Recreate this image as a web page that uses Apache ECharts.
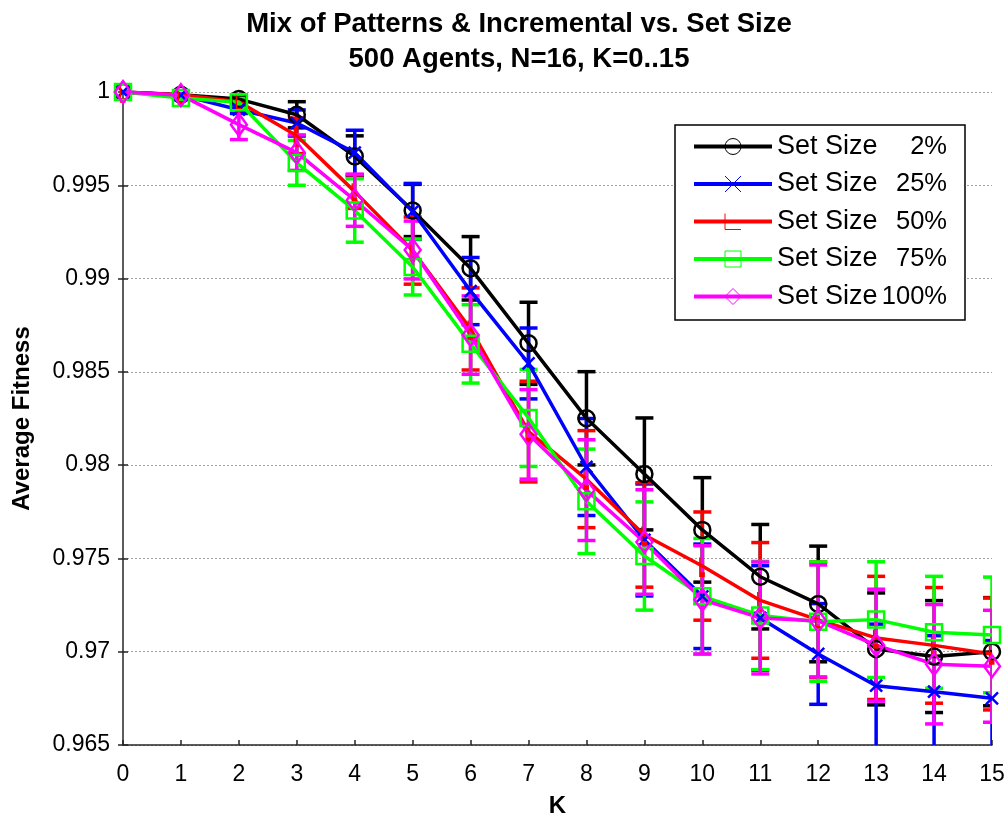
<!DOCTYPE html>
<html>
<head>
<meta charset="utf-8">
<script src="https://cdn.jsdelivr.net/npm/echarts@6/dist/echarts.min.js"></script>
<style>
  html, body { margin: 0; padding: 0; background: #fff; }
  #main { width: 1006px; height: 818px; }
</style>
</head>
<body>
<div id="main"></div>
<script>
const kValues = [0, 1, 2, 3, 4, 5, 6, 7, 8, 9, 10, 11, 12, 13, 14, 15]
const setSizes = ['2%', '25%', '50%', '75%', '100%']

const size2 = [1, 0.99985, 0.99962, 0.99878, 0.99655, 0.99365, 0.99055, 0.98653, 0.98251, 0.97953, 0.97653, 0.97402, 0.97256, 0.97015, 0.96974, 0.97000]
const size2Err = [0.00005, 0.0001, 0.0001, 0.0007, 0.0011, 0.0014, 0.0017, 0.0022, 0.0025, 0.0030, 0.0028, 0.0028, 0.0031, 0.0030, 0.0030, 0.0029]

const size25 = [1, 0.99983, 0.99905, 0.99834, 0.99675, 0.99360, 0.98933, 0.98545, 0.97990, 0.97599, 0.97297, 0.97181, 0.96988, 0.96818, 0.96786, 0.96750]
const size25Err = [0.00005, 0.0001, 0.0002, 0.0007, 0.0012, 0.0015, 0.0018, 0.0019, 0.0026, 0.0030, 0.0028, 0.0028, 0.0027, 0.0033, 0.0030, 0.0031]

const size50 = [1, 0.99985, 0.99948, 0.99765, 0.99466, 0.99150, 0.98730, 0.98180, 0.97925, 0.97626, 0.97459, 0.97275, 0.97171, 0.97074, 0.97034, 0.96988]
const size50Err = [0.00005, 0.0001, 0.0001, 0.00095, 0.0009, 0.0018, 0.0022, 0.0027, 0.0026, 0.0028, 0.0029, 0.0031, 0.0031, 0.0033, 0.0031, 0.0030]

const size75 = [1, 0.99968, 0.99945, 0.99620, 0.99365, 0.99062, 0.98650, 0.98253, 0.97806, 0.97513, 0.97297, 0.97194, 0.97161, 0.97172, 0.97104, 0.97090]
const size75Err = [0.00005, 0.0001, 0.0002, 0.0012, 0.0017, 0.0015, 0.0021, 0.0026, 0.0028, 0.0029, 0.0031, 0.0029, 0.0032, 0.0031, 0.0030, 0.0031]

const size100 = [1, 0.99983, 0.99825, 0.99675, 0.99420, 0.99153, 0.98697, 0.98165, 0.97866, 0.97588, 0.97278, 0.97181, 0.97165, 0.97035, 0.96933, 0.96922]
const size100Err = [0.00005, 0.0001, 0.0008, 0.00095, 0.0014, 0.00155, 0.0021, 0.0024, 0.0027, 0.0028, 0.0029, 0.0030, 0.0030, 0.0030, 0.0032, 0.0030]

const FONT = '"Liberation Sans", Arial, sans-serif'
const CAP = 9

const lines = [
  { pct: setSizes[0], values: size2, err: size2Err, color: '#000000', symbol: 'circle', symbolSize: 16 },
  { pct: setSizes[1], values: size25, err: size25Err, color: '#0000ff', symbol: 'path://M0,0 L10,10 M10,0 L0,10', symbolSize: 12 },
  { pct: setSizes[2], values: size50, err: size50Err, color: '#ff0000', symbol: 'path://M0,0 L0,16 L4,16', symbolSize: [5, 17] },
  { pct: setSizes[3], values: size75, err: size75Err, color: '#00ff00', symbol: 'rect', symbolSize: 16 },
  { pct: setSizes[4], values: size100, err: size100Err, color: '#ff00ff', symbol: 'diamond', symbolSize: [16, 22] }
]

const errorBars = color => (params, api) => {
  const x = api.value(0)
  const lo = api.coord([x, api.value(1)])
  const hi = api.coord([x, api.value(2)])
  const style = { stroke: color, lineWidth: 3.5, fill: null }
  return {
    type: 'group',
    children: [
      { type: 'line', shape: { x1: lo[0], y1: lo[1], x2: hi[0], y2: hi[1] }, style },
      { type: 'line', shape: { x1: lo[0] - CAP, y1: lo[1], x2: lo[0] + CAP, y2: lo[1] }, style },
      { type: 'line', shape: { x1: hi[0] - CAP, y1: hi[1], x2: hi[0] + CAP, y2: hi[1] }, style }
    ]
  }
}

const series = []
lines.forEach(l => {
  series.push({
    type: 'custom',
    clip: true,
    silent: true,
    renderItem: errorBars(l.color),
    data: kValues.map((k, i) => [k, l.values[i] - l.err[i], l.values[i] + l.err[i]])
  })
  series.push({
    type: 'line',
    name: 'Set Size|' + l.pct,
    data: kValues.map((k, i) => [k, l.values[i]]),
    symbol: l.symbol,
    symbolSize: l.symbolSize,
    showAllSymbol: true,
    clip: true,
    lineStyle: { color: l.color, width: 3.5 },
    itemStyle: { color: 'rgba(0,0,0,0)', borderColor: l.color, borderWidth: 2.5 },
    emphasis: { disabled: true },
    animation: false
  })
})

const chart = echarts.init(document.getElementById('main'))
chart.setOption({
  animation: false,
  backgroundColor: '#ffffff',
  title: {
    text: 'Mix of Patterns & Incremental vs. Set Size\n500 Agents, N=16, K=0..15',
    left: 514,
    top: 2,
    textAlign: 'center',
    textStyle: { fontFamily: FONT, fontSize: 27.5, fontWeight: 'bold', color: '#000', lineHeight: 35 }
  },
  legend: {
    orient: 'vertical',
    left: 675,
    top: 125,
    padding: [8, 18, 10, 17],
    itemWidth: 78,
    itemHeight: 20,
    itemGap: 10.5,
    itemTextGap: 13,
    backgroundColor: '#fff',
    borderColor: '#000',
    borderWidth: 1.5,
    borderRadius: 0,
    lineStyle: { width: 4 },
    itemStyle: { borderWidth: 1 },
    data: series.filter(s => s.type === 'line').map(s => s.name),
    formatter: name => '{a|' + name.split('|')[0] + '}{b|' + name.split('|')[1] + '}',
    textStyle: {
      fontFamily: FONT,
      fontSize: 27,
      lineHeight: 27,
      color: '#000',
      rich: {
        a: { fontFamily: FONT, fontSize: 27, lineHeight: 27, width: 104, color: '#000' },
        b: { fontFamily: FONT, fontSize: 25.5, lineHeight: 27, width: 66, align: 'right', color: '#000' }
      }
    }
  },
  grid: { left: 123, right: 14, top: 92, bottom: 73, containLabel: false, outerBoundsMode: 'none' },
  xAxis: {
    type: 'value',
    min: 0,
    max: 15,
    interval: 1,
    name: 'K',
    nameLocation: 'middle',
    nameGap: 49,
    nameTextStyle: { fontFamily: FONT, fontSize: 24, fontWeight: 'bold', color: '#000' },
    axisLine: { onZero: false, lineStyle: { color: '#262626', width: 1.5 } },
    axisTick: { inside: true, length: 5, lineStyle: { color: '#262626', width: 1.5 } },
    axisLabel: { margin: 18, fontFamily: FONT, fontSize: 23, color: '#000' },
    splitLine: { show: false }
  },
  yAxis: [{
    type: 'value',
    min: 0.965,
    max: 1,
    interval: 0.005,
    name: 'Average Fitness',
    nameLocation: 'middle',
    nameGap: 89,
    nameTextStyle: { fontFamily: FONT, fontSize: 24, fontWeight: 'bold', color: '#000' },
    axisLine: { show: true, onZero: false, lineStyle: { color: '#262626', width: 1.5 } },
    axisTick: { inside: true, length: 5, lineStyle: { color: '#262626', width: 1.5 } },
    axisLabel: { margin: 13, fontFamily: FONT, fontSize: 23, color: '#000', formatter: v => String(+v.toFixed(3)) },
    splitLine: { show: true, lineStyle: { color: '#a0a0a0', width: 1, type: [2, 2] } }
  }, {
    type: 'value',
    position: 'right',
    min: 0.965,
    max: 1,
    interval: 0.005,
    axisLine: { show: false },
    axisTick: { show: true, inside: true, length: 5, lineStyle: { color: '#262626', width: 1.5 } },
    axisLabel: { show: false },
    splitLine: { show: false }
  }],
  series: series
})
</script>
</body>
</html>
